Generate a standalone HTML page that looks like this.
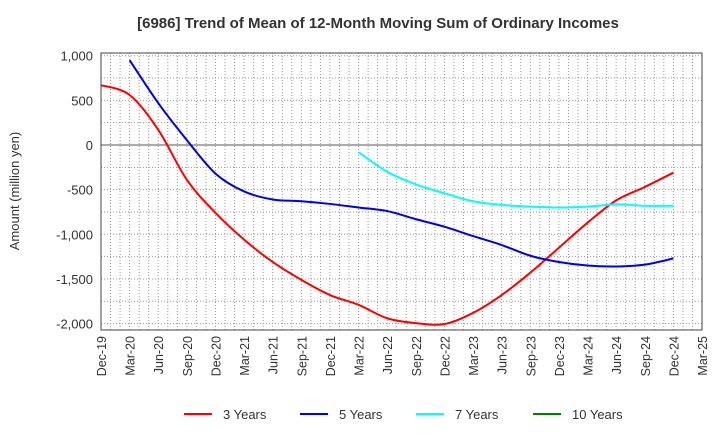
<!DOCTYPE html>
<html><head><meta charset="utf-8"><style>
body{margin:0;background:#fff;font-family:"Liberation Sans",Arial,sans-serif}
svg text{font-family:"Liberation Sans",Arial,sans-serif}
</style></head><body>
<svg width="720" height="440" viewBox="0 0 720 440">
<text x="378" y="28" font-size="15" font-weight="bold" text-anchor="middle" fill="#333">[6986]  Trend of Mean of 12-Month Moving Sum of Ordinary Incomes</text>
<g id="grid"></g>
<g id="yticks"></g>
<g id="xticks"></g>
<text transform="translate(19,191) rotate(-90)" font-size="13" text-anchor="middle" fill="#333">Amount (million yen)</text>
<g id="series"></g>
<rect x="101" y="53" width="601" height="277" fill="none" stroke="#444" stroke-width="1"/>
<g id="legend"></g>
</svg>
<script>
const xLabels=["Dec-19","Mar-20","Jun-20","Sep-20","Dec-20","Mar-21","Jun-21","Sep-21","Dec-21","Mar-22","Jun-22","Sep-22","Dec-22","Mar-23","Jun-23","Sep-23","Dec-23","Mar-24","Jun-24","Sep-24","Dec-24","Mar-25"];
const yTicks=[1000,500,0,-500,-1000,-1500,-2000];
const yTickLabels=["1,000","500","0","-500","-1,000","-1,500","-2,000"];
const s3=[670,560,170,-390,-760,-1060,-1310,-1510,-1680,-1790,-1940,-1995,-2005,-1880,-1680,-1430,-1150,-870,-620,-470,-310];
const s5=[null,950,470,55,-320,-520,-610,-630,-660,-700,-740,-830,-915,-1020,-1120,-1240,-1310,-1350,-1360,-1340,-1270];
const s7=[null,null,null,null,null,null,null,null,null,-80,-300,-440,-540,-630,-670,-690,-700,-690,-665,-680,-680];
const s10=[];
const seriesNames=["3 Years","5 Years","7 Years","10 Years"];
const seriesColors=["#ff0000","#0000ee","#00ffff","#008000"];
const NS="http://www.w3.org/2000/svg";
const L=101,R=702,T=53,B=330;
const x=i=>L+(R-L)*i/(xLabels.length-1);
const y=v=>145-v*0.0893;
function mk(tag,attrs,parent){const e=document.createElementNS(NS,tag);for(const k in attrs)e.setAttribute(k,attrs[k]);parent.appendChild(e);return e;}
const grid=document.getElementById('grid'),yt=document.getElementById('yticks'),xt=document.getElementById('xticks');
for(let m=0;m<=(xLabels.length-1)*3;m++){const xx=L+(R-L)*m/((xLabels.length-1)*3);
 const l=mk('line',{x1:xx,x2:xx,y1:T,y2:B,stroke:'#999','stroke-dasharray':'1,2','stroke-width':1},grid);
 
 }
for(let v=1000;v>=-2000;v-=250){const yy=y(v);
 const l=mk('line',{x1:L,x2:R,y1:yy,y2:yy,stroke:v===0?'#555':'#999','stroke-dasharray':v===0?'':'1,2','stroke-width':1},grid);
 
 }
yTicks.forEach((v,i)=>{const t=mk('text',{x:L-8,y:y(v)+5,'font-size':13,'text-anchor':'end',fill:'#333'},yt);t.textContent=yTickLabels[i];
 
 });
xLabels.forEach((s,i)=>{const xx=x(i);const t=mk('text',{transform:`translate(${xx+5},336) rotate(-90)`,'font-size':12.5,'text-anchor':'end',fill:'#333'},xt);t.textContent=s;
 
 });
function smooth(pts){if(pts.length<2)return'';let d=`M${pts[0][0]},${pts[0][1]}`;
 for(let i=0;i<pts.length-1;i++){const p0=pts[i-1]||pts[i],p1=pts[i],p2=pts[i+1],p3=pts[i+2]||p2;
  const c1=[p1[0]+(p2[0]-p0[0])/6,p1[1]+(p2[1]-p0[1])/6],c2=[p2[0]-(p3[0]-p1[0])/6,p2[1]-(p3[1]-p1[1])/6];
  d+=` C${c1[0]},${c1[1]} ${c2[0]},${c2[1]} ${p2[0]},${p2[1]}`;}return d;}
const sg=document.getElementById('series');
[s3,s5,s7,s10].forEach((arr,k)=>{const pts=[];arr.forEach((v,i)=>{if(v!==null&&v!==undefined)pts.push([x(i),y(v)]);});
 const p=mk('path',{d:smooth(pts),fill:'none',stroke:seriesColors[k],'stroke-width':2},sg);
 
 });
const lg=document.getElementById('legend');const lx=[184,300,416,533];
seriesNames.forEach((n,k)=>{const g=mk('g',{},lg);
 
 
 mk('line',{x1:lx[k],x2:lx[k]+28,y1:414,y2:414,stroke:seriesColors[k],'stroke-width':2},g);
 const t=mk('text',{x:lx[k]+39,y:419,'font-size':13,fill:'#333'},g);t.textContent=n;});
</script>
</body></html>
